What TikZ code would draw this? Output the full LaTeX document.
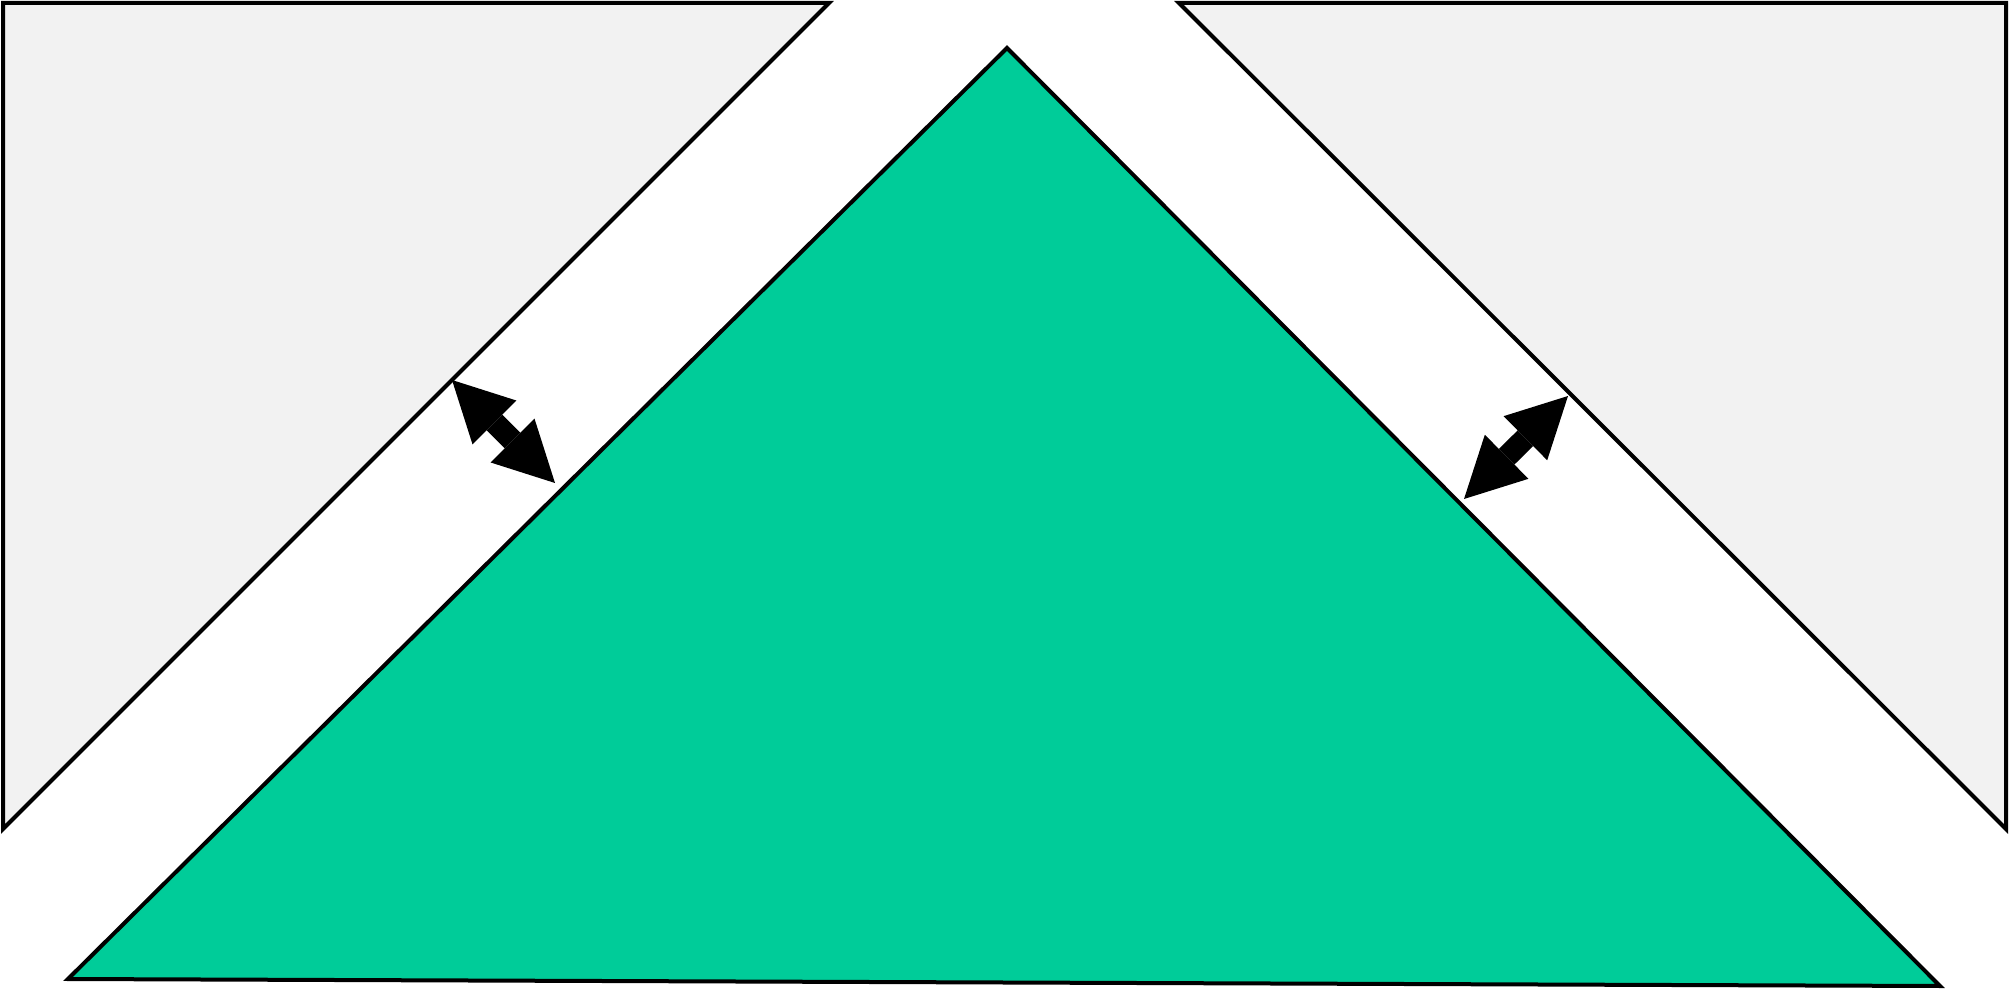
\documentclass[tikz,border=0pt]{standalone}
\usetikzlibrary{arrows.meta}
\definecolor{verde}{HTML}{00CC99}
\definecolor{gris}{HTML}{F2F2F2}
\begin{document}
\begin{tikzpicture}[x=0.5pt,y=-0.5pt,
		zona/.style={draw=black,line width=2pt,line join=miter},
		flecha/.style={line width=11pt,>={Triangle[length=30pt,width=31pt,line width=0pt]},<->}
	]
	\useasboundingbox (0,0) rectangle (2009,989);
	% esquinas
	\coordinate (A1) at (3,3);
	\coordinate (A2) at (829,3);
	\coordinate (A3) at (3,829);
	\coordinate (B1) at (1179,3);
	\coordinate (B2) at (2006,3);
	\coordinate (B3) at (2006,829);
	\coordinate (T) at (1007,48);
	\coordinate (TL) at (68,979);
	\coordinate (TR) at (1940,986);
	\draw[zona,fill=gris] (A1) -- (A2) -- (A3) -- cycle;
	\draw[zona,fill=gris] (B1) -- (B2) -- (B3) -- cycle;
	\draw[zona,fill=verde] (T) -- (TR) -- (TL) -- cycle;
	% flechas
	\coordinate (I1) at (452,380);
	\coordinate (I2) at (555,483);
	\coordinate (D1) at (1568,396);
	\coordinate (D2) at (1464,499);
	\draw[flecha] (I1) -- (I2);
	\draw[flecha] (D1) -- (D2);
\end{tikzpicture}
\end{document}
